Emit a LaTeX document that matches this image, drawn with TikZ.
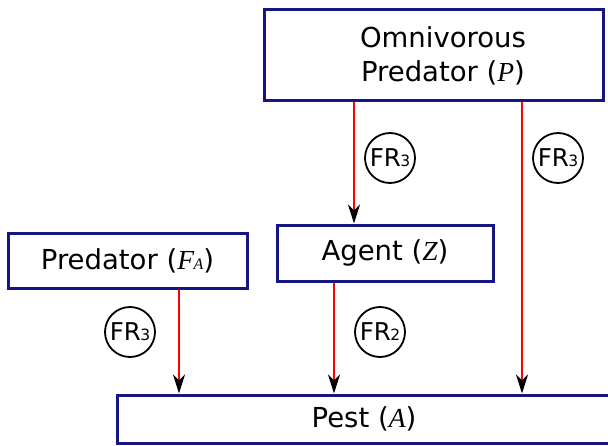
\documentclass[tikz,border=0pt]{standalone}
\usepackage{fontspec}
\setmainfont{DejaVu Sans}
\newfontfamily\mitfont{Liberation Serif}
\usetikzlibrary{arrows.meta}
\definecolor{boxblue}{RGB}{22,22,130}
\begin{document}
\begin{tikzpicture}[x=1pt,y=-1pt,
  box/.style={draw=boxblue, line width=3pt, fill=white, inner sep=0pt, font=\fontsize{27.5}{34}\selectfont},
  boxtext/.style={inner sep=0pt, align=center, font=\fontsize{27.5}{34}\selectfont},
  frc/.style={draw=black, circle, line width=1.8pt, minimum size=50pt, inner sep=0pt, font=\fontsize{24.5}{24.5}\selectfont},
  arr/.style={red, line width=2.2pt, -{Stealth[black, length=19pt, width=12pt, inset=6pt]}}]
\useasboundingbox (0,0) rectangle (608,445);
\newcommand{\frsub}[1]{FR\kern-0.5pt{\fontsize{15.5}{15.5}\selectfont #1}}
\newcommand{\mv}[1]{{\mitfont\itshape #1}}
\node[box, minimum width=339pt, minimum height=91pt] (omni) at (433.5,54.5) {};
\node[boxtext] (omnitext) at (443,56) {Omnivorous\\Predator (\mv{P})};
\node[box, minimum width=239pt, minimum height=55pt] (fa) at (127.5,260.5) {Predator (\mv{F\kern-0.5pt{\fontsize{16}{16}\selectfont A}})};
\node[box, minimum width=216pt, minimum height=56pt] (agent) at (385,253) {Agent (\mv{Z})};
\node[box, minimum width=494pt, minimum height=48pt] (pest) at (364,419) {Pest (\mv{A})};
\draw[arr] (omni.south -| 354,0) -- (agent.north -| 354,0);
\draw[arr] (omni.south -| 522,0) -- (pest.north -| 522,0);
\draw[arr] (fa.south -| 179,0) -- (pest.north -| 179,0);
\draw[arr] (agent.south -| 334,0) -- (pest.north -| 334,0);
\node[frc] (fr1) at (390,158) {\frsub{3}};
\node[frc] (fr2) at (558,158) {\frsub{3}};
\node[frc] (fr3) at (130,332) {\frsub{3}};
\node[frc] (fr4) at (380,332) {\frsub{2}};
\end{tikzpicture}
\end{document}
